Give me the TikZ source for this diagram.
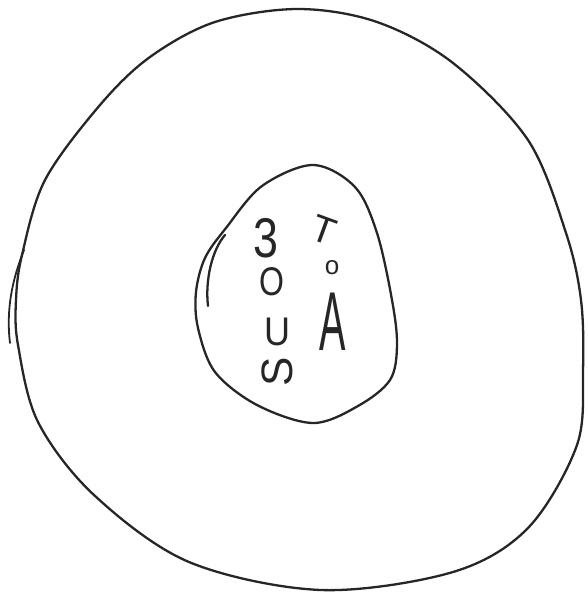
\documentclass[tikz,border=0pt]{standalone}
\usepackage{fontspec}
\setmainfont{Liberation Sans}
\begin{document}
\begin{tikzpicture}[x=1pt,y=-1pt,
  pen/.style={line width=2.3pt,line cap=round,line join=round,draw=black!85},
  hand/.style={inner sep=0pt,text=black!85}]
\useasboundingbox (0,0) rectangle (588,595);
% outer loop
\draw[pen] plot[smooth cycle,tension=0.55] coordinates{
 (298,9) (377,22) (453,63) (528,140) (566,233) (581,300) (583,370) (577,445)
 (528,528) (453,572) (321,590) (189,562) (94,495) (38,422) (18,345) (16,300)
 (22,255) (45,180) (100,105) (150,57) (215,22)};
% left tick
\coordinate (t1) at (24,250);
\coordinate (t2) at (10,343);
\draw[pen,line width=1.8pt] (t1) .. controls (12,280) and (6,310) .. (t2);
% inner egg
\draw[pen] plot[smooth cycle,tension=0.55] coordinates{
 (313,165) (355,187) (377,233) (392,300) (397,345) (390,380) (358,406)
 (313,423) (257,405) (215,372) (198,328) (196,292) (205,258) (226,228) (262,186)};
% inner extra arc
\coordinate (a1) at (225,235);
\coordinate (a2) at (208,306);
\draw[pen] (a1) .. controls (212,250) and (205,280) .. (a2);
% letters
\node[hand,font=\fontsize{56}{56}\selectfont,xscale=0.8] (l1) at (266,238) {3};
\node[hand,font=\fontsize{40}{40}\selectfont,xscale=0.8] (l2) at (272,282) {O};
\node[hand,font=\fontsize{40}{40}\selectfont,xscale=0.9] (l3) at (277,332) {U};
\node[hand,font=\fontsize{44}{44}\selectfont,rotate=90] (l4) at (277,372) {S};
\node[hand,font=\fontsize{38}{38}\selectfont,rotate=-20] (r1) at (324,230) {T};
\node[hand,font=\fontsize{26}{26}\selectfont] (r2) at (332,268) {o};
\node[hand,font=\fontsize{44}{44}\selectfont,xscale=0.9,yscale=1.9] (r3) at (333,322) {A};
\end{tikzpicture}
\end{document}
